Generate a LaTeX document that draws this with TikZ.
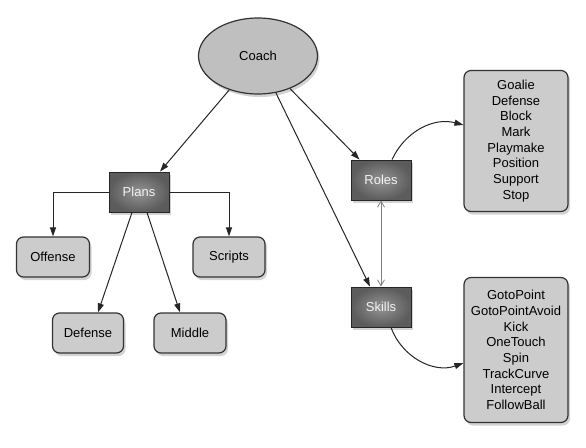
\documentclass[tikz,border=0pt]{standalone}
\usepackage{fontspec}
\setmainfont{Liberation Sans}
\usepackage{tikz}
\usetikzlibrary{positioning,arrows.meta,shapes.geometric,shadows}
\tikzset{
	>={Triangle[length=9pt,width=6pt]}, % filled arrow heads
	every node/.style={font=\fontsize{13}{15.7}\selectfont, align=center},
	boss/.style={ellipse, draw=black!80, line width=1.2pt, fill=gray!50, minimum width=119pt, minimum height=76pt,
		drop shadow={opacity=0.35, shadow xshift=2pt, shadow yshift=-3pt}}, % the top ellipse
	dark/.style={rectangle, draw=black!85, line width=0.9pt, shading=radial, inner color=black!42, outer color=black!64,
		text=white!95!black, minimum width=60pt, minimum height=40pt,
		drop shadow={opacity=0.35, shadow xshift=2pt, shadow yshift=-3pt}}, % shaded grey boxes
	leaf/.style={rectangle, rounded corners=7pt, draw=black!80, line width=1.2pt, fill=gray!40,
		minimum height=40pt, drop shadow={opacity=0.35, shadow xshift=2pt, shadow yshift=-3pt}}, % light boxes
	flow/.style={->, line width=1pt, black!85},
	link/.style={{Straight Barb[length=6pt,width=7pt]}-{Straight Barb[length=6pt,width=7pt]}, line width=0.8pt, gray},
}
\begin{document}
\begin{tikzpicture}[x=1pt,y=-1pt]
	\useasboundingbox (0,0) rectangle (586,447);
	\node[boss] at (258,56) (coach) {Coach};
	\node[dark] at (139,192) (plans) {Plans};
	\node[dark] at (381,180) (roles) {Roles};
	\node[dark] at (381,307) (skills) {Skills};
	
	\node[leaf, minimum width=73pt] at (53,257) (offense) {Offense};
	\node[leaf, minimum width=72pt] at (229,257) (scripts) {Scripts};
	\node[leaf, minimum width=71pt] at (88,333) (defense) {Defense};
	\node[leaf, minimum width=72pt] at (190,333) (middle) {Middle};
	
	\node[leaf, minimum width=104pt, minimum height=141pt] at (516,141) (rolelist)
		{Goalie\\Defense\\Block\\Mark\\Playmake\\Position\\Support\\Stop};
	\node[leaf, minimum width=104pt, minimum height=145pt] at (516,350) (skilllist)
		{GotoPoint\\GotoPointAvoid\\Kick\\OneTouch\\Spin\\TrackCurve\\Intercept\\FollowBall};
	
	\draw[flow] (coach) -- ([xshift=21pt]plans.north);
	\draw[flow] (coach) -- ([xshift=9pt]roles.north west);
	\draw[flow] (coach) -- ([xshift=-11pt]skills.north);
	\draw[flow] (plans.west) -| (offense.north);
	\draw[flow] (plans.east) -| (scripts.north);
	\draw[flow] ([xshift=-7pt]plans.south) -- ([xshift=10pt]defense.north);
	\draw[flow] ([xshift=8pt]plans.south) -- ([xshift=-10pt]middle.north);
	\draw[link] (roles.south) -- (skills.north);
	\draw[flow] ([xshift=11pt]roles.north) to[out=65,in=165] ([yshift=16pt]rolelist.west);
	\draw[flow] ([xshift=10pt]skills.south) to[out=-70,in=-160] ([yshift=-13pt]skilllist.west);
\end{tikzpicture}
\end{document}
